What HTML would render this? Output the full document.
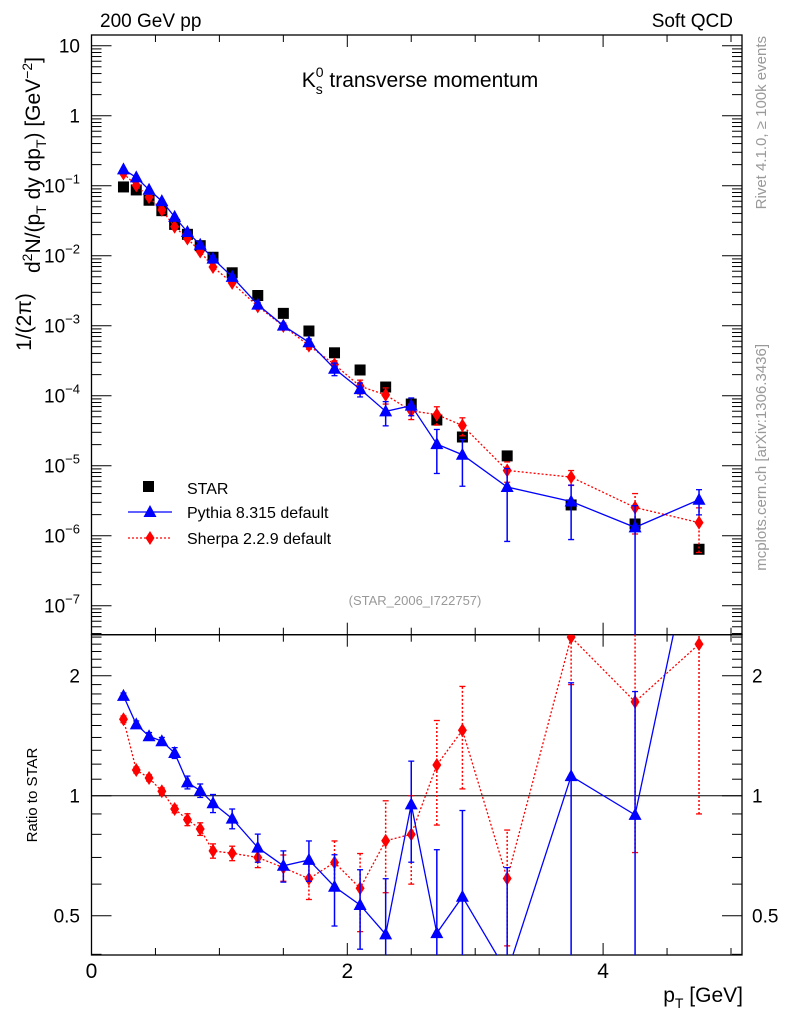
<!DOCTYPE html>
<html><head><meta charset="utf-8"><style>
html,body{margin:0;padding:0;background:#fff;width:786px;height:1024px;overflow:hidden;}
svg{display:block;font-family:"Liberation Sans",sans-serif;}
</style></head><body>
<svg id="c" width="786" height="1024" viewBox="0 0 786 1024"></svg>
<script>
const pT=[0.25,0.35,0.45,0.55,0.65,0.75,0.85,0.95,1.1,1.3,1.5,1.7,1.9,2.1,2.3,2.5,2.7,2.9,3.25,3.75,4.25,4.75];
const star=[0.096,0.087,0.062,0.044,0.028,0.0202,0.0139,0.0095,0.0057,0.0027,0.0015,8.4e-4,4.1e-4,2.33e-4,1.33e-4,7.6e-5,4.5e-5,2.57e-5,1.38e-5,2.75e-6,1.47e-6,6.4e-7];
const pyRatio=[1.78,1.51,1.41,1.37,1.28,1.08,1.03,0.957,0.876,0.741,0.667,0.69,0.591,0.532,0.449,0.951,0.452,0.558,0.36,1.12,0.895,5.1];
const pyErr=[0.03,0.03,0.03,0.03,0.04,0.04,0.04,0.05,0.05,0.06,0.06,0.08,0.12,0.12,0.17,0.27,0.28,0.36,0.3,0.8,0.93,2];
const shRatio=[1.555,1.16,1.108,1.026,0.926,0.871,0.825,0.727,0.717,0.70,0.66,0.619,0.68,0.586,0.771,0.80,1.194,1.46,0.62,2.5,1.72,2.4];
const shErr=[0.03,0.02,0.02,0.02,0.02,0.03,0.03,0.03,0.03,0.04,0.05,0.07,0.09,0.13,0.2,0.2,0.35,0.42,0.2,0.6,1.0,1.5];
const xTicks=[0,2,4];
const mainDecades=[-7,-6,-5,-4,-3,-2,-1,0,1];
const ratioTicks=[0.5,1,2];

const NS="http://www.w3.org/2000/svg";
const svg=document.getElementById('c');
const L=91.5,R=742,T=35,M=634.7,B=955;
const X=v=>L+v*127.9;
const Ym=v=>115.7-Math.log10(v)*70;
const Yr=v=>795.7-Math.log10(v)*398.6;
function el(tag,attrs,parent,name,inter){const e=document.createElementNS(NS,tag);for(const k in attrs)e.setAttribute(k,attrs[k]);


(parent||svg).appendChild(e);return e;}
function txt(x,y,s,attrs,name,parent){const t=el('text',Object.assign({x:x,y:y},attrs||{}),parent,name,false);t.innerHTML=s;return t;}

const defs=el('defs',{},svg,'defs',false);
const cp1=el('clipPath',{id:'cm'},defs,'clip-main',false);el('rect',{x:L,y:T,width:R-L,height:M-T},cp1,'clip-rect',false);
const cp2=el('clipPath',{id:'cr'},defs,'clip-ratio',false);el('rect',{x:L,y:M,width:R-L,height:B-M},cp2,'clip-rect',false);

el('rect',{x:L,y:T,width:R-L,height:M-T,fill:'none',stroke:'#000','stroke-width':1.3},svg,'main-frame',false);
el('rect',{x:L,y:M,width:R-L,height:B-M,fill:'none',stroke:'#000','stroke-width':1.3},svg,'ratio-frame',false);

const axg=el('g',{stroke:'#000','stroke-width':1},svg,'ticks',false);
for(let v=0;v<=5;v+=0.5){const x=X(v);const maj=(v%2===0);const ln=maj?12:7;
 [[T,1],[M,-1],[M,1],[B,-1]].forEach(([y,d])=>el('line',{x1:x,x2:x,y1:y,y2:y+d*ln},axg,'x-tick',false));}
xTicks.forEach(v=>txt(X(v),978,String(v),{'font-size':21,'text-anchor':'middle'},'x-tick-label'));
for(let d=-8;d<=1;d++){for(let k=1;k<10;k++){const v=k*Math.pow(10,d);const y=Ym(v);if(y<T||y>M)continue;const ln=k===1?20:10;
 el('line',{x1:L,x2:L+ln,y1:y,y2:y},axg,'y-tick',false);el('line',{x1:R,x2:R-ln,y1:y,y2:y},axg,'y-tick',false);}}
mainDecades.forEach(d=>{const y=Ym(Math.pow(10,d))+7;
 if(d===0)txt(80,y,'1',{'font-size':19,'text-anchor':'end'},'y-tick-label');
 else if(d===1)txt(80,y,'10',{'font-size':19,'text-anchor':'end'},'y-tick-label');
 else txt(80,y,'10<tspan dy="-9" font-size="13">−'+(-d)+'</tspan>',{'font-size':19,'text-anchor':'end'},'y-tick-label');});
for(let v=0.4;v<=2.55;v+=0.1){const y=Yr(v);if(y<M||y>B)continue;const maj=Math.abs(v-0.5)<1e-6||Math.abs(v-1)<1e-6||Math.abs(v-2)<1e-6;const ln=maj?20:10;
 el('line',{x1:L,x2:L+ln,y1:y,y2:y},axg,'ratio-tick',false);el('line',{x1:R,x2:R-ln,y1:y,y2:y},axg,'ratio-tick',false);}
ratioTicks.forEach(v=>{const y=Yr(v)+7;txt(80,y,String(v),{'font-size':19,'text-anchor':'end'},'ratio-tick-label');txt(752,y,String(v),{'font-size':19},'ratio-tick-label');});
el('line',{x1:L,x2:R,y1:Yr(1),y2:Yr(1),stroke:'#000','stroke-width':1},svg,'ratio-unity-line',false);

function tri(g,x,y,c,n){el('polygon',{points:`${x},${y-7} ${x-6.5},${y+5} ${x+6.5},${y+5}`,fill:c},g,n,false);}
function dia(g,x,y,c,n){el('polygon',{points:`${x},${y-7} ${x+4.5},${y} ${x},${y+7} ${x-4.5},${y}`,fill:c},g,n,false);}
function series(g,yf,vals,errs,color,dash,mk,name){
 const pts=pT.map((p,i)=>X(p)+','+yf(vals[i])).join(' ');
 el('polyline',{points:pts,fill:'none',stroke:color,'stroke-width':1.3,'stroke-dasharray':dash||'none'},g,name+'-line',false);
 pT.forEach((p,i)=>{const x=X(p);const lo=Math.max(vals[i]-errs[i],1e-12);const hi=vals[i]+errs[i];
  el('line',{x1:x,x2:x,y1:yf(lo),y2:yf(hi),stroke:color,'stroke-width':1.5,'stroke-dasharray':dash||'none'},g,name+'-errbar',false);
  el('line',{x1:x-3,x2:x+3,y1:yf(hi),y2:yf(hi),stroke:color,'stroke-width':1.3},g,name+'-errcap',false);
  if(vals[i]-errs[i]>0)el('line',{x1:x-3,x2:x+3,y1:yf(lo),y2:yf(lo),stroke:color,'stroke-width':1.3},g,name+'-errcap',false);
  mk(g,x,yf(vals[i]),color,name+'-point');});
}
const gm=el('g',{'clip-path':'url(#cm)'},svg,'main-plot',false);
const pyVal=pT.map((p,i)=>star[i]*pyRatio[i]);
const shVal=pT.map((p,i)=>star[i]*shRatio[i]);
const pyE=pT.map((p,i)=>pyVal[i]*pyErr[i]/pyRatio[i]);
const shE=pT.map((p,i)=>shVal[i]*shErr[i]/shRatio[i]);
pT.forEach((p,i)=>el('rect',{x:X(p)-5.5,y:Ym(star[i])-5.5,width:11,height:11,fill:'#000'},gm,'star-point',false));
series(gm,Ym,shVal,shE,'#ff0000','2,2',dia,'sherpa');
series(gm,Ym,pyVal,pyE,'#0000ff',null,tri,'pythia');
const gr=el('g',{'clip-path':'url(#cr)'},svg,'ratio-plot',false);
series(gr,Yr,shRatio,shErr,'#ff0000','2,2',dia,'sherpa-ratio');
series(gr,Yr,pyRatio,pyErr,'#0000ff',null,tri,'pythia-ratio');

const lg=el('g',{},svg,'legend',false);
el('rect',{x:143,y:481,width:11,height:11,fill:'#000'},lg,'legend-star-marker',false);
txt(187,494,'STAR',{'font-size':16},'legend-star-label',lg);
el('line',{x1:128,x2:172,y1:512,y2:512,stroke:'#0000ff','stroke-width':1.3},lg,'legend-pythia-line',false);
tri(lg,150,512,'#0000ff','legend-pythia-marker');
txt(187,518,'Pythia 8.315 default',{'font-size':16},'legend-pythia-label',lg);
el('line',{x1:128,x2:172,y1:538,y2:538,stroke:'#ff0000','stroke-width':1.3,'stroke-dasharray':'2,2'},lg,'legend-sherpa-line',false);
dia(lg,150,538,'#ff0000','legend-sherpa-marker');
txt(187,544,'Sherpa 2.2.9 default',{'font-size':16},'legend-sherpa-label',lg);

txt(100,27,'200 GeV pp',{'font-size':19},'energy-label');
txt(733,27,'Soft QCD',{'font-size':19,'text-anchor':'end'},'process-label');
txt(420,87,'K<tspan dy="7" font-size="14">s</tspan><tspan dy="-17" dx="-7" font-size="14">0</tspan><tspan dy="10"> transverse momentum</tspan>',{'font-size':21,'text-anchor':'middle'},'plot-title');
txt(415,605,'(STAR_2006_I722757)',{'font-size':13,fill:'#999','text-anchor':'middle'},'analysis-id');
txt(0,0,'1/(2π)',{'font-size':21,'text-anchor':'middle',transform:'translate(31,322) rotate(-90)'},'y-axis-title-prefix');
txt(0,0,'d<tspan dy="-8" font-size="14">2</tspan><tspan dy="8">N/(p</tspan><tspan dy="6" font-size="14">T</tspan><tspan dy="-6"> dy dp</tspan><tspan dy="6" font-size="14">T</tspan><tspan dy="-6">) [GeV</tspan><tspan dy="-8" font-size="14">−2</tspan><tspan dy="8">]</tspan>',{'font-size':21,'text-anchor':'start',transform:'translate(40,273) rotate(-90)'},'y-axis-title');
txt(0,0,'Ratio to STAR',{'font-size':15,'text-anchor':'middle',transform:'translate(37,795) rotate(-90)'},'ratio-axis-title');
txt(743,1002,'p<tspan dy="6" font-size="14">T</tspan><tspan dy="-6"> [GeV]</tspan>',{'font-size':21,'text-anchor':'end'},'x-axis-title');
txt(0,0,'Rivet 4.1.0, ≥ 100k events',{'font-size':15,fill:'#999','text-anchor':'end',transform:'translate(766,36) rotate(-90)'},'rivet-label');
txt(0,0,'mcplots.cern.ch [arXiv:1306.3436]',{'font-size':15,fill:'#999','text-anchor':'end',transform:'translate(766,344) rotate(-90)'},'mcplots-label');
</script>
</body></html>
